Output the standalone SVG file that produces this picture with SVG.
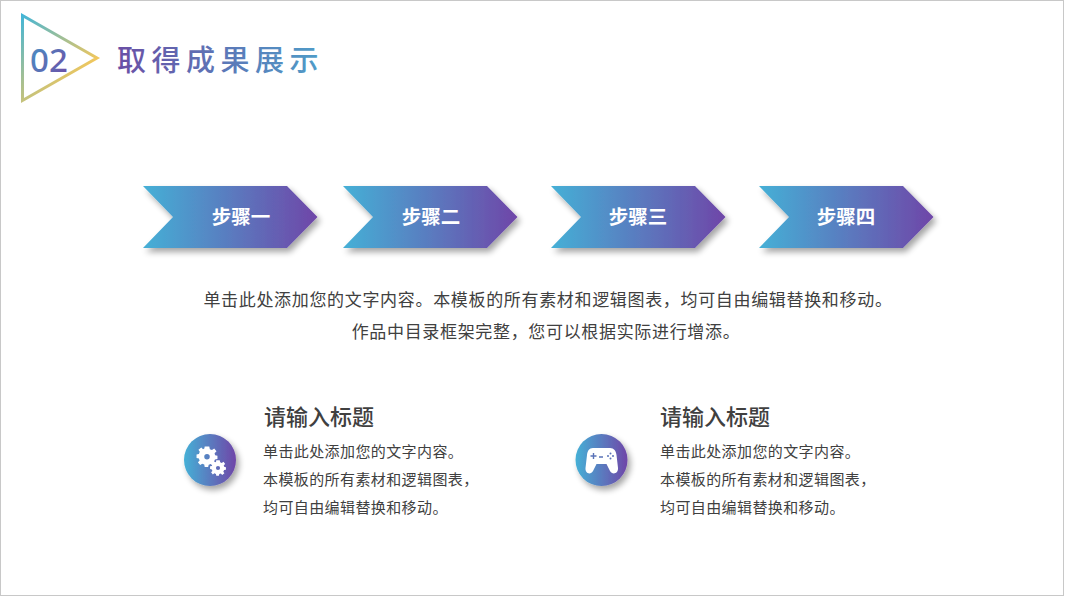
<svg xmlns="http://www.w3.org/2000/svg" width="1067" height="600" viewBox="0 0 1067 600">
<style>
text{font-family:"Noto Sans CJK SC","Noto Sans",sans-serif}
.step{font-size:19.500px;font-weight:700;fill:#fff;text-anchor:middle}
.body{font-size:17px;letter-spacing:.67px;fill:#404040;text-anchor:middle}
.head{font-size:22px;font-weight:500;fill:#404040}
.small{font-size:15px;letter-spacing:.4px;fill:#404040}
</style>
<defs>
<linearGradient id="g" x1="0" y1="0" x2="1" y2="0"><stop offset="0" stop-color="#45B0D6"/><stop offset="1" stop-color="#6F46A8"/></linearGradient>
<linearGradient id="tri" gradientUnits="userSpaceOnUse" x1="21" y1="13" x2="81" y2="75"><stop offset="0" stop-color="#3FB5DA"/><stop offset="1" stop-color="#F2C75C"/></linearGradient>
<linearGradient id="num" gradientUnits="userSpaceOnUse" x1="30" y1="48" x2="66" y2="72"><stop offset="0" stop-color="#4A8FC4"/><stop offset="1" stop-color="#6B52A8"/></linearGradient>
<linearGradient id="ttl" gradientUnits="userSpaceOnUse" x1="117" y1="0" x2="320" y2="0"><stop offset="0" stop-color="#6A4FA5"/><stop offset="1" stop-color="#4F9CC8"/></linearGradient>
<filter id="sh" x="-20%" y="-20%" width="150%" height="150%"><feGaussianBlur in="SourceAlpha" stdDeviation="3"/><feOffset dx="3" dy="4"/><feComponentTransfer><feFuncA type="linear" slope="0.36"/></feComponentTransfer><feMerge><feMergeNode/><feMergeNode in="SourceGraphic"/></feMerge></filter>
<path id="chev" d="M0 0H144L174.500 31 144 62H0L30 31Z" fill="url(#g)" filter="url(#sh)"/>
<path id="gear" fill="#fff" fill-rule="evenodd" d="M-2.400-10H2.400L3-7.200 5.200-6.300 7.600-7.900 10-4.900 8-3 8.500-.9 11-.2V3.200L8.400 3.600 7.400 5.800 8.900 8 5.800 10.300 4 8.400 1.800 9.100 1.200 11.500H-2.400L-2.900 9-5 8.100-7.200 9.600-9.600 6.600-7.800 4.900-8.500 2.700-11 2.200V-1.600L-8.500-2.200-7.600-4.400-9-6.600-6-9-4.200-7.200-2.800-7.800ZM0-2.200A2.900 2.900 0 1 0 0 3.600 2.900 2.900 0 1 0 0-2.200Z"/>
</defs>
<rect width="1067" height="600" fill="#fff"/>
<rect x=".5" y=".5" width="1063" height="595" fill="none" stroke="#c8c8c8"/>
<g id="header">
<path d="M22.500 15.500 97 58 22.500 100.500Z" fill="none" stroke="url(#tri)" stroke-width="3"/>
<text x="30" y="72" font-size="33" font-weight="500" style="font-family:'Noto Sans',sans-serif" fill="url(#num)">02</text>
<text x="117" y="71" font-size="29" font-weight="500" letter-spacing="5.500" fill="url(#ttl)">取得成果展示</text>
</g>
<g id="step1"><use href="#chev" x="143" y="186"/><text class="step" x="241" y="224">步骤一</text></g>
<g id="step2"><use href="#chev" x="343" y="186"/><text class="step" x="431" y="224">步骤二</text></g>
<g id="step3"><use href="#chev" x="551" y="186"/><text class="step" x="638" y="224">步骤三</text></g>
<g id="step4"><use href="#chev" x="759" y="186"/><text class="step" x="846" y="224">步骤四</text></g>
<g id="description">
<text class="body" x="548" y="306">单击此处添加您的文字内容。本模板的所有素材和逻辑图表，均可自由编辑替换和移动。</text>
<text class="body" x="546" y="338">作品中目录框架完整，您可以根据实际进行增添。</text>
</g>
<g id="icon1">
<circle cx="210" cy="460" r="26" fill="url(#g)" filter="url(#sh)"/>
<use href="#gear" transform="translate(207 456) scale(.95)"/>
<use href="#gear" transform="translate(218 467.500) scale(.72)"/>
</g>
<g id="item1">
<text class="head" x="264" y="425">请输入标题</text>
<text class="small" x="263" y="457">单击此处添加您的文字内容。</text>
<text class="small" x="263" y="485">本模板的所有素材和逻辑图表，</text>
<text class="small" x="263" y="513">均可自由编辑替换和移动。</text>
</g>
<g id="icon2">
<circle cx="601.500" cy="460" r="26" fill="url(#g)" filter="url(#sh)"/>
<path fill="#fff" d="M593 448H610C614 448 616 451 616.500 455L618 468C618.500 474 612 475 610 471L606.500 464H596.500L593 471C591 475 585 474 585.500 468L587 455C587.500 451 589 448 593 448Z"/>
<path d="M590.500 456H596.500M593.500 453V459M599 457H603" stroke="#5A73B8" stroke-width="1.400" fill="none"/>
<g fill="#5A73B8"><circle cx="610.500" cy="453.500" r="1"/><circle cx="610.500" cy="458.500" r="1"/><circle cx="608" cy="456" r="1"/><circle cx="613" cy="456" r="1"/></g>
</g>
<g id="item2">
<text class="head" x="660" y="425">请输入标题</text>
<text class="small" x="660" y="457">单击此处添加您的文字内容。</text>
<text class="small" x="660" y="485">本模板的所有素材和逻辑图表，</text>
<text class="small" x="660" y="513">均可自由编辑替换和移动。</text>
</g>
</svg>
